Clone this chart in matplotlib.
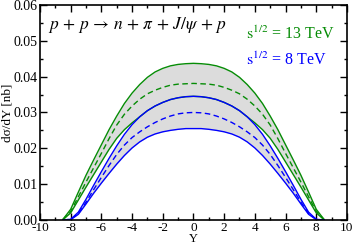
import numpy as np
import matplotlib.pyplot as plt
from matplotlib.ticker import MultipleLocator, FormatStrFormatter

plt.rcParams['font.family'] = ['Liberation Serif', 'DejaVu Serif']
plt.rcParams['mathtext.fontset'] = 'stix'
plt.rcParams['axes.unicode_minus'] = False

# rapidity grid
Y = [-8.5, -8.0, -7.5, -7.0, -6.5, -6.0, -5.5, -5.0, -4.5, -4.0, -3.5, -3.0,
     -2.5, -2.0, -1.5, -1.0, -0.5, 0.0, 0.5, 1.0, 1.5, 2.0, 2.5, 3.0, 3.5,
     4.0, 4.5, 5.0, 5.5, 6.0, 6.5, 7.0, 7.5, 8.0, 8.5]

# sqrt(s) = 13 TeV band (upper, central, lower), nb
g_hi = [0.0002, 0.0030, 0.0078, 0.0125, 0.0168, 0.0210, 0.0252, 0.0290, 0.0325,
        0.0354, 0.0378, 0.0398, 0.0413, 0.0423, 0.0430, 0.0434, 0.0436, 0.0437,
        0.0436, 0.0434, 0.0430, 0.0423, 0.0413, 0.0398, 0.0378, 0.0354, 0.0325,
        0.0290, 0.0252, 0.0210, 0.0168, 0.0125, 0.0078, 0.0030, 0.0002]
g_mid = [0.0002, 0.0024, 0.0065, 0.0106, 0.0146, 0.0186, 0.0227, 0.0265, 0.0295,
         0.0318, 0.0337, 0.0352, 0.0362, 0.0370, 0.0376, 0.0379, 0.0380, 0.0381,
         0.0380, 0.0379, 0.0376, 0.0370, 0.0362, 0.0352, 0.0337, 0.0318, 0.0295,
         0.0265, 0.0227, 0.0186, 0.0146, 0.0106, 0.0065, 0.0024, 0.0002]
g_lo = [0.0001, 0.0020, 0.0056, 0.0092, 0.0127, 0.0162, 0.0197, 0.0228, 0.0252,
        0.0271, 0.0288, 0.0305, 0.0318, 0.0328, 0.0336, 0.0341, 0.0344, 0.0345,
        0.0344, 0.0341, 0.0336, 0.0328, 0.0318, 0.0305, 0.0288, 0.0271, 0.0252,
        0.0228, 0.0197, 0.0162, 0.0127, 0.0092, 0.0056, 0.0020, 0.0001]

# sqrt(s) = 8 TeV band
b_hi = [0.0000, 0.0002, 0.0022, 0.0058, 0.0097, 0.0135, 0.0172, 0.0207, 0.0239,
        0.0266, 0.0288, 0.0305, 0.0318, 0.0328, 0.0336, 0.0341, 0.0344, 0.0345,
        0.0344, 0.0341, 0.0336, 0.0328, 0.0318, 0.0305, 0.0288, 0.0266, 0.0239,
        0.0207, 0.0172, 0.0135, 0.0097, 0.0058, 0.0022, 0.0002, 0.0000]
b_mid = [0.0000, 0.0002, 0.0018, 0.0050, 0.0085, 0.0119, 0.0152, 0.0183, 0.0209,
         0.0230, 0.0246, 0.0260, 0.0272, 0.0282, 0.0290, 0.0296, 0.0299, 0.0300,
         0.0299, 0.0296, 0.0290, 0.0282, 0.0272, 0.0260, 0.0246, 0.0230, 0.0209,
         0.0183, 0.0152, 0.0119, 0.0085, 0.0050, 0.0018, 0.0002, 0.0000]
b_lo = [0.0000, 0.0001, 0.0016, 0.0045, 0.0075, 0.0103, 0.0130, 0.0156, 0.0180,
        0.0201, 0.0218, 0.0231, 0.0240, 0.0246, 0.0250, 0.0253, 0.0255, 0.0255,
        0.0255, 0.0253, 0.0250, 0.0246, 0.0240, 0.0231, 0.0218, 0.0201, 0.0180,
        0.0156, 0.0130, 0.0103, 0.0075, 0.0045, 0.0016, 0.0001, 0.0000]

green = '#068c06'
blue = '#0000ff'
grey = '#dcdcdc'

fig = plt.figure(figsize=(3.54, 2.45), dpi=100)
ax = fig.add_axes([0.113, 0.102, 0.867, 0.878])

ax.fill_between(Y, g_lo, g_hi, color=grey, lw=0)
ax.fill_between(Y, b_lo, b_hi, color=grey, lw=0)

lw = 1.0
ax.plot(Y, g_hi, color=green, lw=lw)
ax.plot(Y, g_mid, color=green, lw=lw, ls=(0, (4, 2.5)))
ax.plot(Y, g_lo, color=green, lw=lw)
ax.plot(Y, b_hi, color=blue, lw=lw)
ax.plot(Y, b_mid, color=blue, lw=lw, ls=(0, (4, 2.5)))
ax.plot(Y, b_lo, color=blue, lw=lw)

ax.set_xlim(-10, 10)
ax.set_ylim(0, 0.06)
ax.xaxis.set_major_locator(MultipleLocator(2))
ax.xaxis.set_minor_locator(MultipleLocator(1))
ax.yaxis.set_major_locator(MultipleLocator(0.01))
ax.yaxis.set_minor_locator(MultipleLocator(0.005))
ax.yaxis.set_major_formatter(FormatStrFormatter('%.2f'))
ax.tick_params(which='both', direction='in', top=True, right=True,
               labelsize=10, width=1.0, pad=2)
ax.tick_params(axis='x', which='both', labelsize=9.5, pad=1.5)
ax.tick_params(which='major', length=5)
ax.tick_params(which='minor', length=2.5)
for s in ax.spines.values():
    s.set_linewidth(1.2)

ax.set_xlabel('Y', fontsize=9, labelpad=-0.5)
ax.set_ylabel('dσ/dY [nb]', fontsize=9.5, labelpad=0)

ax.text(0.026, 0.905, r'$p\,+\,p\,\rightarrow\,n\,+\,\pi\,+\,J/\psi\,+\,p$',
        transform=ax.transAxes, fontsize=12.5, va='center', ha='left')
ax.text(0.67, 0.865, r'$\mathrm{s}^{1/2}$ = 13 TeV', color=green,
        transform=ax.transAxes, fontsize=11.5, va='center', ha='left')
ax.text(0.67, 0.74, r'$\mathrm{s}^{1/2}$ = 8 TeV', color=blue,
        transform=ax.transAxes, fontsize=11.5, va='center', ha='left')

fig.savefig('out.png', dpi=100)
